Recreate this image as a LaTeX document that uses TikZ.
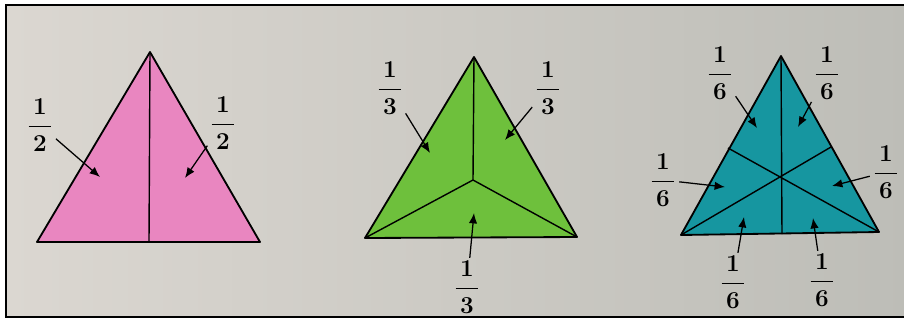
\documentclass[tikz,border=0pt]{standalone}
\usetikzlibrary{positioning,arrows.meta}
\usepackage{amsmath}
\definecolor{paperL}{RGB}{219,215,209}
\definecolor{paperR}{RGB}{189,189,183}
\definecolor{pinkfill}{RGB}{233,134,192}
\definecolor{greenfill}{RGB}{110,192,60}
\definecolor{tealfill}{RGB}{22,150,160}

\begin{document}
\begin{tikzpicture}[x=0.25mm, y=-0.25mm,
  >={Latex[length=2.6mm,width=2.1mm]},
  edge/.style={line width=1.3pt, line join=round},
  part/.style={line width=1pt},
  frac/.style={font=\LARGE\boldmath, inner sep=1pt},
  pointer/.style={->, line width=0.9pt, shorten <=1pt}]
  \useasboundingbox (0,0) rectangle (904,320);

  % paper and frame
  \shade[left color=paperL, right color=paperR] (6,5) rectangle (910,317);
  \draw[line width=2pt] (910,5) -- (6,5) -- (6,317) -- (910,317);

  % halves
  \coordinate (a1) at (150,52);
  \coordinate (b1) at (37,242);
  \coordinate (c1) at (260,242);
  \coordinate (m1) at (149,242);
  \fill[pinkfill] (a1) -- (b1) -- (c1) -- cycle;
  \draw[part] (a1) -- (m1);
  \draw[edge] (a1) -- (b1) -- (c1) -- cycle;
  \coordinate (p1) at (100,177);
  \coordinate (p2) at (185,178);
  \node[frac] (h1) at (40,125) {$\dfrac{\,1\,}{2}$};
  \node[frac] (h2) at (223,123) {$\dfrac{\,1\,}{2}$};
  \draw[pointer] (h1) -- (p1);
  \draw[pointer] (h2) -- (p2);

  % thirds
  \coordinate (a2) at (474,57);
  \coordinate (b2) at (365,238);
  \coordinate (c2) at (577,237);
  \coordinate (o2) at (473,180);
  \fill[greenfill] (a2) -- (b2) -- (c2) -- cycle;
  \draw[part] (a2) -- (o2) (b2) -- (o2) -- (c2);
  \draw[edge] (a2) -- (b2) -- (c2) -- cycle;
  \coordinate (q1) at (430,153);
  \coordinate (q2) at (505,140);
  \coordinate (q3) at (474,213);
  \node[frac] (t1) at (390,88) {$\dfrac{\,1\,}{3}$};
  \node[frac] (t2) at (548,88) {$\dfrac{\,1\,}{3}$};
  \node[frac] (t3) at (467,287) {$\dfrac{\,1\,}{3}$};
  \draw[pointer] (t1) -- (q1);
  \draw[pointer] (t2) -- (q2);
  \draw[pointer] (t3) -- (q3);

  % sixths
  \coordinate (a3) at (781,56);
  \coordinate (b3) at (681,235);
  \coordinate (c3) at (879,232);
  \coordinate (o3) at (782,177);
  \coordinate (mab) at (728,148);
  \coordinate (mac) at (831,147);
  \coordinate (mbc) at (782,234);
  \fill[tealfill] (a3) -- (b3) -- (c3) -- cycle;
  \draw[part] (a3) -- (mbc) (b3) -- (mac) (c3) -- (mab);
  \draw[edge] (a3) -- (b3) -- (c3) -- cycle;
  \coordinate (r1) at (757,128);
  \coordinate (r2) at (798,127);
  \coordinate (r3) at (725,187);
  \coordinate (r4) at (832,186);
  \coordinate (r5) at (744,217);
  \coordinate (r6) at (813,218);
  \node[frac] (s1) at (720,73) {$\dfrac{\,1\,}{6}$};
  \node[frac] (s2) at (827,73) {$\dfrac{\,1\,}{6}$};
  \node[frac] (s3) at (663,180) {$\dfrac{\,1\,}{6}$};
  \node[frac] (s4) at (886,172) {$\dfrac{\,1\,}{6}$};
  \node[frac] (s5) at (733,282) {$\dfrac{\,1\,}{6}$};
  \node[frac] (s6) at (822,280) {$\dfrac{\,1\,}{6}$};
  \draw[pointer] (s1) -- (r1);
  \draw[pointer] (s2) -- (r2);
  \draw[pointer] (s3) -- (r3);
  \draw[pointer] (s4) -- (r4);
  \draw[pointer] (s5) -- (r5);
  \draw[pointer] (s6) -- (r6);
\end{tikzpicture}
\end{document}
